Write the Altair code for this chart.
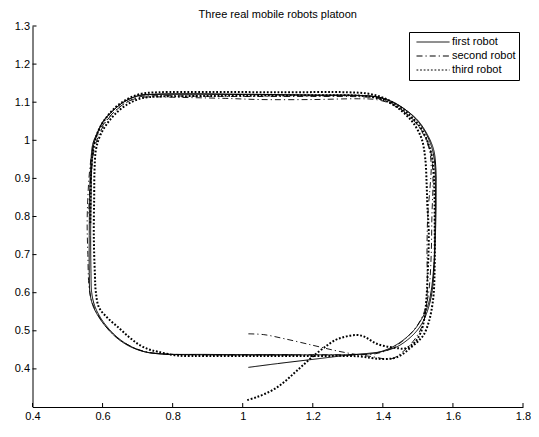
import altair as alt
import pandas as pd

# ---- data (x, y) ----
first_robot_xy = [
    (1.016, 0.404), (1.10, 0.414), (1.20, 0.425), (1.30, 0.436), (1.36, 0.441), (1.40, 0.446),
    (1.44, 0.458), (1.47, 0.476), (1.497, 0.500), (1.515, 0.525), (1.530, 0.560), (1.540, 0.600), (1.546, 0.660),
    (1.550, 0.750), (1.552, 0.850), (1.551, 0.930),
    (1.545, 0.975), (1.527, 1.015), (1.500, 1.052), (1.465, 1.080), (1.430, 1.100), (1.390, 1.113), (1.340, 1.117),
    (1.200, 1.118), (1.000, 1.120), (0.850, 1.121), (0.740, 1.120),
    (0.700, 1.116), (0.660, 1.100), (0.625, 1.074), (0.600, 1.048), (0.585, 1.020), (0.572, 0.990),
    (0.566, 0.930), (0.563, 0.850), (0.562, 0.750), (0.562, 0.650), (0.564, 0.600),
    (0.572, 0.567), (0.590, 0.535), (0.615, 0.505), (0.645, 0.478), (0.680, 0.458), (0.720, 0.445), (0.770, 0.439),
    (0.900, 0.437), (1.050, 0.437), (1.200, 0.437), (1.330, 0.438), (1.380, 0.442),
    (1.424, 0.456), (1.460, 0.477), (1.490, 0.503), (1.510, 0.530), (1.528, 0.565), (1.538, 0.605), (1.546, 0.680),
    (1.549, 0.780), (1.550, 0.880), (1.548, 0.940),
    (1.540, 0.980), (1.522, 1.020), (1.495, 1.055), (1.460, 1.083), (1.420, 1.103), (1.380, 1.114), (1.330, 1.118),
    (1.200, 1.119), (1.000, 1.121), (0.850, 1.122), (0.750, 1.121),
    (0.705, 1.118), (0.665, 1.103), (0.630, 1.078), (0.603, 1.050), (0.587, 1.022), (0.575, 0.990),
    (0.569, 0.930), (0.567, 0.850), (0.566, 0.750), (0.567, 0.650), (0.569, 0.600),
    (0.577, 0.567), (0.595, 0.533), (0.620, 0.503), (0.650, 0.477), (0.685, 0.457), (0.725, 0.444), (0.775, 0.439),
    (0.900, 0.438), (1.050, 0.437), (1.150, 0.437),
]

second_robot_xy = [
    (1.016, 0.492), (1.060, 0.490), (1.120, 0.479), (1.200, 0.462), (1.260, 0.449), (1.310, 0.440), (1.370, 0.432), (1.410, 0.426), (1.430, 0.428),
    (1.450, 0.440), (1.475, 0.460), (1.500, 0.490), (1.515, 0.520), (1.524, 0.560), (1.527, 0.620),
    (1.526, 0.700), (1.528, 0.800), (1.535, 0.880), (1.538, 0.930),
    (1.533, 0.975), (1.516, 1.015), (1.490, 1.050), (1.455, 1.078), (1.420, 1.097), (1.380, 1.107), (1.330, 1.109),
    (1.200, 1.107), (1.050, 1.107), (0.950, 1.110), (0.800, 1.113), (0.740, 1.114),
    (0.700, 1.111), (0.660, 1.095), (0.630, 1.072), (0.605, 1.045), (0.585, 1.015), (0.572, 0.980),
    (0.563, 0.920), (0.558, 0.850), (0.556, 0.780), (0.558, 0.700), (0.561, 0.620),
    (0.568, 0.580), (0.585, 0.545), (0.610, 0.510), (0.640, 0.483), (0.675, 0.462), (0.715, 0.447), (0.765, 0.440),
    (0.900, 0.437), (1.050, 0.437), (1.200, 0.437), (1.320, 0.437), (1.380, 0.440),
    (1.420, 0.452), (1.455, 0.472), (1.485, 0.498), (1.507, 0.527), (1.522, 0.560), (1.532, 0.610),
    (1.538, 0.700), (1.540, 0.800), (1.543, 0.900),
    (1.537, 0.970), (1.520, 1.012), (1.493, 1.048), (1.460, 1.076), (1.425, 1.097), (1.385, 1.110), (1.340, 1.114),
    (1.200, 1.115), (1.000, 1.115), (0.850, 1.116), (0.750, 1.117),
    (0.705, 1.114), (0.665, 1.098), (0.632, 1.073), (0.607, 1.045), (0.590, 1.015), (0.577, 0.980),
    (0.568, 0.920), (0.563, 0.860), (0.560, 0.800),
]

third_robot_xy = [
    (1.013, 0.318), (1.040, 0.326), (1.072, 0.338), (1.100, 0.353), (1.123, 0.369), (1.147, 0.389), (1.170, 0.408),
    (1.203, 0.435), (1.240, 0.461), (1.265, 0.476), (1.283, 0.482), (1.305, 0.487), (1.325, 0.489), (1.340, 0.487),
    (1.353, 0.482), (1.370, 0.472), (1.385, 0.465), (1.405, 0.460), (1.423, 0.457), (1.445, 0.454), (1.460, 0.453),
    (1.478, 0.460), (1.493, 0.472), (1.508, 0.495), (1.518, 0.530), (1.524, 0.580), (1.528, 0.650),
    (1.531, 0.757), (1.527, 0.830), (1.525, 0.884), (1.521, 0.952),
    (1.511, 1.003), (1.488, 1.044), (1.460, 1.072), (1.430, 1.093), (1.395, 1.108), (1.350, 1.116),
    (1.200, 1.118), (1.000, 1.117), (0.850, 1.116), (0.760, 1.115),
    (0.710, 1.110), (0.670, 1.094), (0.635, 1.068), (0.610, 1.040), (0.592, 1.010), (0.581, 0.975),
    (0.577, 0.920), (0.576, 0.850), (0.575, 0.750), (0.578, 0.650), (0.581, 0.600),
    (0.590, 0.561), (0.615, 0.533), (0.646, 0.508), (0.675, 0.484), (0.702, 0.465), (0.730, 0.452), (0.758, 0.445), (0.814, 0.435),
    (0.900, 0.434), (1.050, 0.434), (1.200, 0.434), (1.330, 0.433), (1.395, 0.426),
    (1.430, 0.428), (1.455, 0.438), (1.478, 0.455), (1.500, 0.472), (1.517, 0.490), (1.530, 0.520), (1.538, 0.550),
    (1.545, 0.597), (1.548, 0.680),
    (1.548, 0.780), (1.547, 0.870), (1.543, 0.940),
    (1.532, 0.985), (1.510, 1.030), (1.480, 1.063), (1.445, 1.090), (1.405, 1.110), (1.360, 1.122), (1.300, 1.126),
    (1.100, 1.126), (0.900, 1.127), (0.760, 1.126),
    (0.710, 1.122), (0.670, 1.108), (0.635, 1.085), (0.607, 1.055), (0.588, 1.025), (0.575, 0.985),
    (0.568, 0.930), (0.566, 0.850), (0.565, 0.780),
]

robot_names = ["first robot", "second robot", "third robot"]
x_ticks = [0.4, 0.6, 0.8, 1.0, 1.2, 1.4, 1.6, 1.8]
y_ticks = [0.4, 0.5, 0.6, 0.7, 0.8, 0.9, 1.0, 1.1, 1.2, 1.3]


def frame(name, pts):
    return pd.DataFrame({"robot": name, "i": list(range(len(pts))),
                         "x": [p[0] for p in pts], "y": [p[1] for p in pts]})


W, H = 490.5, 381
FONT = "Liberation Sans"

x_scale = alt.Scale(domain=[0.4, 1.8], nice=False, zero=False)
y_scale = alt.Scale(domain=[0.3, 1.3], nice=False, zero=False)
x_axis = alt.Axis(values=x_ticks, format="~g", ticks=False, tickSize=0, grid=False, title=None,
                  labelPadding=3, labelFontSize=11, labelFont=FONT, labelColor="black",
                  domainColor="black", domainWidth=1, labelFlush=False)
y_axis = alt.Axis(values=y_ticks, format="~g", ticks=False, tickSize=0, grid=False, title=None,
                  labelPadding=3, labelFontSize=11, labelFont=FONT, labelColor="black",
                  domainColor="black", domainWidth=1, labelFlush=False)

dash_scale = alt.Scale(domain=robot_names, range=[[1, 0], [6, 3, 1.2, 3], [1.8, 1.8]])
legend = alt.Legend(title=None, orient="none", legendX=376.5, legendY=6,
                    strokeColor="black", fillColor="white", padding=3,
                    symbolType="stroke", symbolSize=1089, symbolStrokeWidth=1,
                    symbolStrokeColor="black", labelFontSize=11, labelFont=FONT,
                    labelColor="black", labelOffset=2, clipHeight=14, rowPadding=0,
                    symbolOffset=4, cornerRadius=0)


def robot_layer(name, pts, width):
    return alt.Chart(frame(name, pts)).mark_line(
        interpolate="catmull-rom", clip=True, color="black", strokeWidth=width
    ).encode(
        x=alt.X("x:Q", scale=x_scale, axis=x_axis),
        y=alt.Y("y:Q", scale=y_scale, axis=y_axis),
        order=alt.Order("i:Q"),
        strokeDash=alt.StrokeDash("robot:N", scale=dash_scale, legend=legend),
    )


l1 = robot_layer("first robot", first_robot_xy, 1.0)
l2 = robot_layer("second robot", second_robot_xy, 0.9)
l3 = robot_layer("third robot", third_robot_xy, 2.0)

xt = alt.Chart(pd.DataFrame({"x": x_ticks})).mark_rule(color="black", strokeWidth=1).encode(
    x=alt.X("x:Q", scale=x_scale, axis=x_axis), y=alt.value(H), y2=alt.value(H - 4)
)
yt = alt.Chart(pd.DataFrame({"y": y_ticks})).mark_rule(color="black", strokeWidth=1).encode(
    y=alt.Y("y:Q", scale=y_scale, axis=y_axis), x=alt.value(0), x2=alt.value(4)
)

chart = alt.layer(l1, l2, l3, xt, yt).properties(
    width=W, height=H,
    title=alt.TitleParams(text="Three real mobile robots platoon", fontSize=11, font=FONT,
                          fontWeight="normal", anchor="middle", offset=0, color="black"),
    autosize=alt.AutoSizeParams(type="none"),
    padding={"left": 24.5, "top": 18, "right": 8, "bottom": 17},
).configure_view(stroke=None)

chart.save("out.html", embed_options={"renderer": "svg", "actions": False})
